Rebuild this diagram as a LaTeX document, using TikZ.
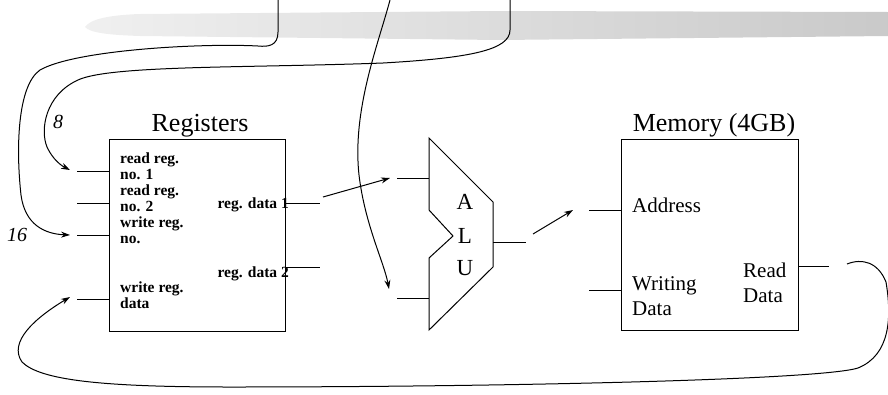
\documentclass[tikz,border=0pt]{standalone}
\usepackage{fontspec}
\setmainfont{Liberation Serif}
\usetikzlibrary{arrows.meta}
\begin{document}
\begin{tikzpicture}[x=1pt,y=-1pt,
  wire/.style={line width=0.9pt},
  curv/.style={line width=1pt},
  arr/.style={-{Stealth[length=9pt,width=6pt]}},
  blk/.style={draw, line width=1.1pt, inner sep=0pt, anchor=north west},
  lbl/.style={font=\bfseries\fontsize{15.5}{16}\selectfont, inner sep=0pt, anchor=base west},
  lblr/.style={font=\bfseries\fontsize{15.5}{16}\selectfont, inner sep=0pt, anchor=base east},
  ttl/.style={font=\fontsize{26}{30}\selectfont, inner sep=0pt, anchor=base},
  mid/.style={font=\fontsize{21}{24}\selectfont, inner sep=0pt, anchor=base west},
  alut/.style={font=\fontsize{23}{26}\selectfont, inner sep=0pt},
  num/.style={font=\itshape\fontsize{20}{22}\selectfont, inner sep=0pt}
]
\useasboundingbox (0,0) rectangle (888,394);

% gray brush band
\path[left color=gray!12, right color=gray!42]
  (85,27) .. controls (90,19) and (110,15) .. (140,14) -- (500,11) -- (888,12) -- (888,36)
  -- (500,40) -- (140,36) .. controls (110,35) and (90,33) .. (85,27) -- cycle;

% Registers block
\node[blk, minimum width=176pt, minimum height=192pt] (reg) at (109,139) {};
\node[ttl] (regt) at (200,131) {Registers};
\node[lbl] (l1) at (120,163) {read reg.};
\node[lbl] (l2) at (120,179) {no. 1};
\node[lbl] (l3) at (120,195) {read reg.};
\node[lbl] (l4) at (120,211) {no. 2};
\node[lbl] (l5) at (120,227) {write reg.};
\node[lbl] (l6) at (120,243) {no.};
\node[lbl] (l7) at (120,292) {write reg.};
\node[lbl] (l8) at (120,308) {data};
\node[lblr] (d1) at (289,208) {reg. data 1};
\node[lblr] (d2) at (289,277) {reg. data 2};

\coordinate (i1) at (77,171);
\coordinate (i2) at (77,203);
\coordinate (i3) at (77,235);
\coordinate (i4) at (77,299);
\coordinate (o1) at (320,203);
\coordinate (o2) at (320,267);
\draw[wire] (i1) -- (i1 -| reg.west);
\draw[wire] (i2) -- (i2 -| reg.west);
\draw[wire] (i3) -- (i3 -| reg.west);
\draw[wire] (i4) -- (i4 -| reg.west);
\draw[wire] (o1 -| reg.east) -- (o1);
\draw[wire] (o2 -| reg.east) -- (o2);

% ALU
\coordinate (a1) at (429,138);
\coordinate (a2) at (493,202);
\coordinate (a3) at (493,267);
\coordinate (a4) at (429,330);
\coordinate (a5) at (429,258);
\coordinate (a6) at (453,236);
\coordinate (a7) at (429,210);
\draw[line width=1pt, line join=miter] (a1) -- (a2) -- (a3) -- (a4) -- (a5) -- (a6) -- (a7) -- cycle;
\node[alut] (tA) at (465,202) {A};
\node[alut] (tL) at (465,236) {L};
\node[alut] (tU) at (465,268) {U};
\coordinate (ai1) at (397,178);
\coordinate (ai2) at (397,298);
\coordinate (ao) at (526,242);
\draw[wire] (ai1) -- (ai1 -| a1);
\draw[wire] (ai2) -- (ai2 -| a1);
\draw[wire] (ao -| a2) -- (ao);

% Memory block
\node[blk, minimum width=177pt, minimum height=191pt] (mem) at (621,139) {};
\node[ttl] (memt) at (714,131) {Memory (4GB)};
\node[mid] (addr) at (632,212) {Address};
\node[mid] (wr1) at (632,290) {Writing};
\node[mid] (wr2) at (632,315) {Data};
\node[mid] (rd1) at (743,277) {Read};
\node[mid] (rd2) at (743,302) {Data};
\coordinate (mi1) at (589,210);
\coordinate (mi2) at (589,290);
\coordinate (mo) at (829,266);
\draw[wire] (mi1) -- (mi1 -| mem.west);
\draw[wire] (mi2) -- (mi2 -| mem.west);
\draw[wire] (mo -| mem.east) -- (mo);

% straight arrows
\coordinate (s1) at (323,197);
\coordinate (t1) at (390,178);
\draw[curv, arr] (s1) -- (t1);
\coordinate (s2) at (533,234);
\coordinate (t2) at (573,210);
\draw[curv, arr] (s2) -- (t2);

% curve A (16)
\coordinate (ca) at (278,0);
\coordinate (ta) at (70,235);
\draw[curv, arr] (ca) -- (278,32) .. controls (278,46) and (268,47) .. (258,46)
  .. controls (200,43) and (75,50) .. (40,70)
  .. controls (17,86) and (16,150) .. (21,195)
  .. controls (25,225) and (45,234) .. (ta);
\node[num] (n16) at (17,235) {16};

% curve B (8)
\coordinate (cb) at (510,0);
\coordinate (tb) at (70,170);
\draw[curv, arr] (cb) -- (510,30) .. controls (510,50) and (470,58) .. (383,63)
  .. controls (250,68) and (110,65) .. (78,80)
  .. controls (45,95) and (40,130) .. (47,147)
  .. controls (53,160) and (62,166) .. (tb);
\node[num] (n8) at (58,122) {8};

% curve C
\coordinate (cc) at (390,0);
\coordinate (tc) at (389,289);
\draw[curv, arr] (cc) .. controls (378,45) and (352,110) .. (359,175)
  .. controls (365,225) and (384,262) .. (tc);

% feedback curve from Read Data
\coordinate (cd) at (847,264);
\coordinate (td) at (70,297);
\draw[curv, arr] (cd) .. controls (862,258) and (878,262) .. (886,282)
  .. controls (892,318) and (890,355) .. (858,368)
  .. controls (820,380) and (500,387) .. (230,387)
  .. controls (100,387) and (40,380) .. (22,362)
  .. controls (8,342) and (35,318) .. (td);
\end{tikzpicture}
\end{document}
